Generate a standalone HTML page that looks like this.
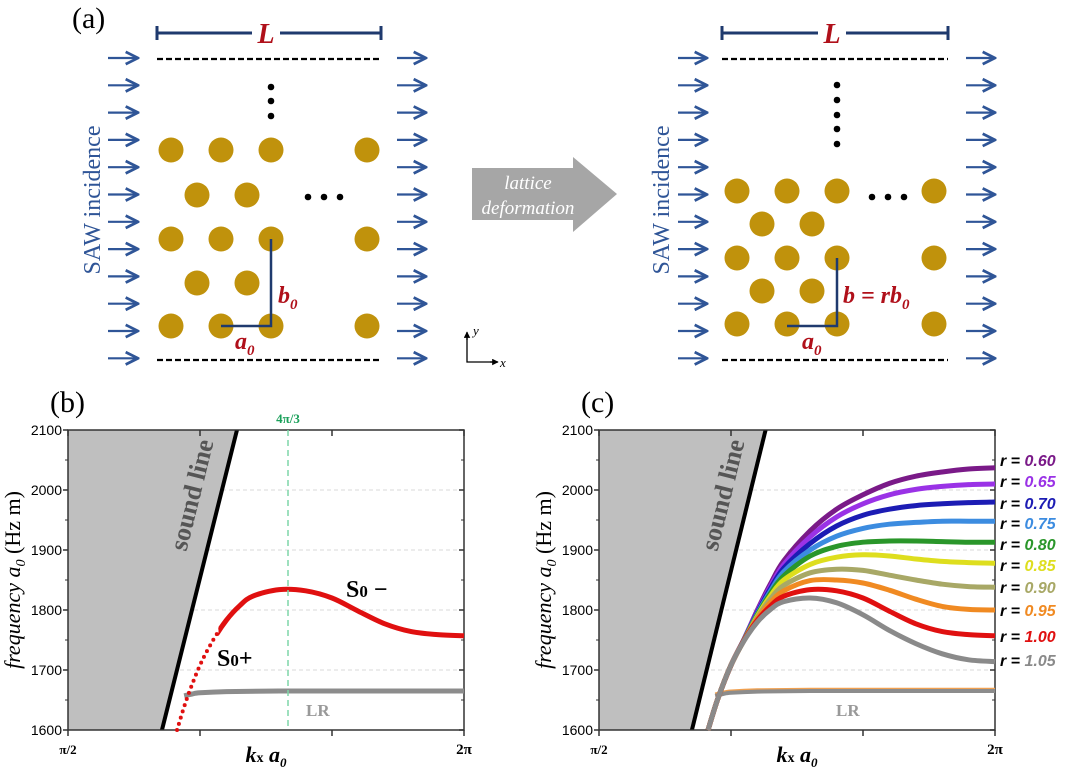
<!DOCTYPE html>
<html><head><meta charset="utf-8"><style>
body{margin:0;background:#fff}
svg{display:block}
.ser{font-family:"Liberation Serif",serif}
.san{font-family:"Liberation Sans",sans-serif}
</style></head><body>
<svg id="fig" width="1080" height="773" viewBox="0 0 1080 773" xmlns="http://www.w3.org/2000/svg">
<defs>
<marker id="ah" viewBox="0 0 10 10" refX="9" refY="5" markerWidth="7" markerHeight="7" orient="auto"><path d="M1,1 L9,5 L1,9" fill="none" stroke="#2f5597" stroke-width="1.8"/></marker>
<marker id="ak" viewBox="0 0 10 10" refX="9" refY="5" markerWidth="5" markerHeight="5" orient="auto"><path d="M0,0 L10,5 L0,10z" fill="#000"/></marker>
</defs>
<g id="panelA"></g>
<g id="panelB"></g>
<g id="panelC"></g>
</svg>
<script>
// ---- data ----
const kxGrid = [0.913,0.95,1.0,1.05,1.1,1.15,1.2,1.3,1.4,1.5,1.6,1.7,1.8,1.9,2.0]; // units of pi
const bandR100 = [1600,1652,1708,1750,1783,1807,1823,1834,1832,1820,1798,1777,1764,1759,1757];
const rLabels = ["0.60","0.65","0.70","0.75","0.80","0.85","0.90","0.95","1.00","1.05"];
const rColors = ["#7a1a88","#9a32e6","#1c1cb4","#3c8ce0","#2a962a","#dede1e","#a8a866","#f08a22","#e01010","#8a8a8a"];
const band060 = [1600,1652,1708,1752,1800,1844,1882,1932,1968,1992,2011,2023,2030,2035,2037];
const band065 = [1600,1652,1708,1752,1798,1840,1876,1922,1955,1977,1992,2001,2006,2009,2010];
const band070 = [1600,1652,1708,1751,1796,1836,1870,1911,1940,1958,1968,1974,1977,1979,1980];
const band075 = [1600,1652,1708,1751,1794,1832,1864,1900,1923,1936,1943,1946,1948,1948,1948];
const band080 = [1600,1652,1708,1751,1792,1828,1857,1890,1906,1913,1915,1915,1914,1913,1913];
const band085 = [1600,1652,1708,1750,1790,1824,1850,1876,1888,1892,1890,1885,1881,1879,1878];
const band090 = [1600,1652,1708,1750,1788,1819,1841,1862,1868,1866,1858,1850,1843,1839,1838];
const band095 = [1600,1652,1708,1750,1786,1813,1832,1849,1850,1845,1833,1818,1806,1801,1800];
const band100 = [1600,1652,1708,1750,1783,1807,1823,1834,1832,1820,1798,1777,1764,1759,1757];
const band105 = [1600,1652,1708,1749,1780,1801,1814,1820,1812,1792,1766,1744,1727,1717,1714];
const lrKx = [0.94,0.97,1.0,1.1,1.3,1.6,2.0];
const lrF = [1657,1660,1662,1664,1665,1665,1665];
const soundKxB = [0.856,1.140];
const soundKxC = [0.852,1.131];
const soundF = [1600,2100];
const yTicks = [1600,1700,1800,1900,2000,2100];
const xTickLabels = ["π/2","","","2π"];
const xTickVals = [0.5,1.0,1.5,2.0];

const NS="http://www.w3.org/2000/svg";
function mk(parent,tag,attrs,text){const e=document.createElementNS(NS,tag);for(const k in attrs)e.setAttribute(k,attrs[k]);if(text!==undefined)e.textContent=text;parent.appendChild(e);return e;}
function smooth(pts){let d="M"+pts[0][0]+","+pts[0][1];for(let i=0;i<pts.length-1;i++){const p0=pts[Math.max(0,i-1)],p1=pts[i],p2=pts[i+1],p3=pts[Math.min(pts.length-1,i+2)];const c1=[p1[0]+(p2[0]-p0[0])/6,p1[1]+(p2[1]-p0[1])/6],c2=[p2[0]-(p3[0]-p1[0])/6,p2[1]-(p3[1]-p1[1])/6];d+=` C${c1[0]},${c1[1]} ${c2[0]},${c2[1]} ${p2[0]},${p2[1]}`;}return d;}

// ---- panel A ----
const A=document.getElementById('panelA');
function schematic(g,o){
  for(let i=0;i<12;i++){const y=58+i*27.3;
    let e=mk(g,'line',{x1:o.aL[0],y1:y,x2:o.aL[1],y2:y,stroke:'#2f5597','stroke-width':2.2,'marker-end':'url(#ah)'});
    
    e=mk(g,'line',{x1:o.aR[0],y1:y,x2:o.aR[1],y2:y,stroke:'#2f5597','stroke-width':2.2,'marker-end':'url(#ah)'});
    }
  [59,360].forEach(y=>{const e=mk(g,'line',{x1:o.dx[0],y1:y,x2:o.dx[1],y2:y,stroke:'#000','stroke-width':2.2,'stroke-dasharray':'6,3'});});
  const lb=mk(g,'g',{});
  mk(lb,'line',{x1:o.dx[0],y1:33,x2:o.Lx-14,y2:33,stroke:'#1f3a6e','stroke-width':3});
  mk(lb,'line',{x1:o.Lx+14,y1:33,x2:o.dx[1],y2:33,stroke:'#1f3a6e','stroke-width':3});
  mk(lb,'line',{x1:o.dx[0],y1:26,x2:o.dx[0],y2:40,stroke:'#1f3a6e','stroke-width':3});
  mk(lb,'line',{x1:o.dx[1],y1:26,x2:o.dx[1],y2:40,stroke:'#1f3a6e','stroke-width':3});
  mk(lb,'text',{x:o.Lx,y:43,'text-anchor':'middle',class:'ser','font-size':28,'font-weight':'bold','font-style':'italic',fill:'#b0101a'},'L');
  o.circ.forEach(c=>{const e=mk(g,'circle',{cx:c[0],cy:c[1],r:12.5,fill:'#c0920c'});});
  o.dv.forEach(y=>mk(g,'circle',{cx:o.lx,cy:y,r:3.3,fill:'#000'}));
  o.dh.forEach(x=>mk(g,'circle',{cx:x,cy:197,r:3.3,fill:'#000'}));
  mk(g,'polyline',{points:`${o.lx0},326 ${o.lx},326 ${o.lx},${o.ly0}`,fill:'none',stroke:'#1f3a6e','stroke-width':2.5});
  const st=mk(g,'text',{transform:`translate(${o.sx},200) rotate(-90)`,'text-anchor':'middle',class:'ser','font-size':24,fill:'#2f5597'},'SAW incidence');
  
}
schematic(A,{aL:[108,138],aR:[397,426],dx:[157,381],Lx:266,
 circ:[[171,150],[221,150],[271,150],[367,150],[197,195],[247,195],[171,239],[221,239],[271,239],[367,239],[197,283],[247,283],[171,326],[221,326],[271,326],[367,326]],
 dv:[87,101,116],dh:[308,324,340],lx:271,lx0:221,ly0:239,sx:100});
schematic(A,{aL:[678,707],aR:[966,995],dx:[722,948],Lx:832,
 circ:[[737,191],[787,191],[837,191],[934,191],[762,224],[812,224],[737,258],[787,258],[837,258],[934,258],[762,291],[812,291],[737,324],[787,324],[837,324],[934,324]],
 dv:[85,100,115,129,144],dh:[872,888,904],lx:837,lx0:787,ly0:258,sx:669});
mk(A,'text',{x:72,y:28,class:'ser','font-size':30},'(a)');
const red={class:'ser','font-size':24,'font-weight':'bold','font-style':'italic',fill:'#b0101a'};
mk(A,'text',Object.assign({x:278,y:303},red)).innerHTML='b<tspan font-size="15" dy="6">0</tspan>';
mk(A,'text',Object.assign({x:235,y:349},red)).innerHTML='a<tspan font-size="15" dy="6">0</tspan>';
mk(A,'text',Object.assign({x:843,y:303},red)).innerHTML='b = rb<tspan font-size="15" dy="6">0</tspan>';
mk(A,'text',Object.assign({x:802,y:349},red)).innerHTML='a<tspan font-size="15" dy="6">0</tspan>';
const ba=mk(A,'polygon',{points:'472,168 573,168 573,157 617,194 573,232 573,220 472,220',fill:'#a6a6a6'});

mk(A,'text',{x:528,y:189,'text-anchor':'middle',class:'ser','font-size':19,'font-style':'italic',fill:'#fff'},'lattice');
mk(A,'text',{x:528,y:214,'text-anchor':'middle',class:'ser','font-size':19,'font-style':'italic',fill:'#fff'},'deformation');
mk(A,'polyline',{points:'467,334 467,362 494,362',fill:'none',stroke:'#000','stroke-width':1.3});
mk(A,'line',{x1:467,y1:340,x2:467,y2:332,stroke:'#000','stroke-width':1.3,'marker-end':'url(#ak)'});
mk(A,'line',{x1:490,y1:362,x2:498,y2:362,stroke:'#000','stroke-width':1.3,'marker-end':'url(#ak)'});
mk(A,'text',{x:473,y:335,class:'ser','font-size':13,'font-style':'italic'},'y');
mk(A,'text',{x:500,y:367,class:'ser','font-size':13,'font-style':'italic'},'x');

// ---- charts ----
function chart(g,x0,label,soundKx){
  const x1=x0+396,yT=430,yB=730;
  const X=k=>x0+(k-0.5)/1.5*396, Y=f=>yB-(f-1600)/500*300;
  mk(g,'text',{x:x0-18,y:412,class:'ser','font-size':30},label);
  yTicks.forEach(t=>{ if(t>1600&&t<2100){const e=mk(g,'line',{x1:x0,y1:Y(t),x2:x1,y2:Y(t),stroke:'#d8d8d8','stroke-width':1,'stroke-dasharray':'4,3'});}
    const tl=mk(g,'text',{x:x0-6,y:Y(t)+5,'text-anchor':'end',class:'san','font-size':14},String(t));
    });
  const sh=mk(g,'polygon',{points:`${x0},${yT} ${X(soundKx[1])},${Y(soundF[1])} ${X(soundKx[0])},${Y(soundF[0])} ${x0},${yB}`,fill:'#bfbfbf'});
  
  const sl=mk(g,'line',{x1:X(soundKx[0]),y1:Y(soundF[0]),x2:X(soundKx[1]),y2:Y(soundF[1]),stroke:'#000','stroke-width':4});
  
  const cx=x0+132;
  const sT=mk(g,'text',{transform:`translate(${cx},497) rotate(-76)`,'text-anchor':'middle',class:'ser','font-size':26,'font-weight':'bold',fill:'#555'},'sound line');
  
  mk(g,'rect',{x:x0,y:yT,width:396,height:300,fill:'none',stroke:'#333','stroke-width':1.5});
  yTicks.forEach(t=>{mk(g,'line',{x1:x0,y1:Y(t),x2:x0-5,y2:Y(t),stroke:'#333','stroke-width':1.5});mk(g,'line',{x1:x1,y1:Y(t),x2:x1-5,y2:Y(t),stroke:'#333','stroke-width':1.5});
    if(t<2100){mk(g,'line',{x1:x0,y1:Y(t+50),x2:x0-3,y2:Y(t+50),stroke:'#333'});mk(g,'line',{x1:x1,y1:Y(t+50),x2:x1-3,y2:Y(t+50),stroke:'#333'});}});
  xTickVals.forEach((v,i)=>{mk(g,'line',{x1:X(v),y1:yB,x2:X(v),y2:yB+6,stroke:'#333','stroke-width':1.5});mk(g,'line',{x1:X(v),y1:yT,x2:X(v),y2:yT+6,stroke:'#333','stroke-width':1.5});
    if(xTickLabels[i]){const e=mk(g,'text',{x:X(v),y:yB+24,'text-anchor':'middle',class:'ser','font-size':i==0?13:15,'font-weight':'bold'},xTickLabels[i]);}});
  const xt=mk(g,'text',{x:x0+198,y:yB+32,'text-anchor':'middle',class:'ser','font-size':22,'font-style':'italic','font-weight':'bold'});
  
  xt.innerHTML='k<tspan font-size="14" font-style="normal">x</tspan> a<tspan font-size="13" dy="5">0</tspan>';
  const yt=mk(g,'text',{transform:`translate(${x0-48},580) rotate(-90)`,'text-anchor':'middle',class:'ser','font-size':22});
  
  yt.innerHTML='<tspan font-style="italic">frequency a</tspan><tspan font-style="italic" font-size="14" dy="5">0</tspan><tspan dy="-5"> (Hz m)</tspan>';
  return {X,Y,x1};
}
// Panel B
const B=document.getElementById('panelB');
const cb=chart(B,68,'(b)',soundKxB);
const lrB=mk(B,'path',{d:smooth(lrKx.map((k,i)=>[cb.X(k),cb.Y(lrF[i])])),fill:'none',stroke:'#8c8c8c','stroke-width':5});

const ptsB=kxGrid.map((k,i)=>[cb.X(k),cb.Y(bandR100[i])]);
const fullB=smooth(ptsB);
const dotB=mk(B,'path',{d:smooth(ptsB.slice(0,6)),fill:'none',stroke:'#e01010','stroke-width':4,'stroke-dasharray':'0,6.5','stroke-linecap':'round'});

const solB=mk(B,'path',{d:fullB,fill:'none',stroke:'#e01010','stroke-width':5});

// clip solid part to kx >= 1.07
const clipB=mk(B,'clipPath',{id:'clipB'});mk(clipB,'rect',{x:cb.X(1.07),y:420,width:400,height:320});
solB.setAttribute('clip-path','url(#clipB)');
const gx=cb.X(4/3);
mk(B,'line',{x1:gx,y1:430,x2:gx,y2:730,stroke:'#7fd6a8','stroke-width':1.5,'stroke-dasharray':'6,4'});
mk(B,'text',{x:gx,y:423,'text-anchor':'middle',class:'ser','font-size':13,'font-weight':'bold',fill:'#1aa05a'},'4π/3');
mk(B,'text',{x:346,y:597,class:'ser','font-size':24,'font-weight':'bold'}).innerHTML='S<tspan font-size="17">0</tspan> −';
mk(B,'text',{x:217,y:666,class:'ser','font-size':24,'font-weight':'bold'}).innerHTML='S<tspan font-size="17">0</tspan>+';
mk(B,'text',{x:306,y:716,class:'ser','font-size':17,'font-weight':'bold',fill:'#999'},'LR');

// Panel C
const C=document.getElementById('panelC');
const cc=chart(C,599,'(c)',soundKxC);
const lrC2=mk(C,'path',{d:smooth(lrKx.map((k,i)=>[cc.X(k),cc.Y(lrF[i]+3)])),fill:'none',stroke:'#f0a050','stroke-width':3});

const lrC=mk(C,'path',{d:smooth(lrKx.map((k,i)=>[cc.X(k),cc.Y(lrF[i])])),fill:'none',stroke:'#8c8c8c','stroke-width':4});

const bands=[band060,band065,band070,band075,band080,band085,band090,band095,band100,band105];
bands.forEach((b,j)=>{
  const p=mk(C,'path',{d:smooth(kxGrid.map((k,i)=>[cc.X(k),cc.Y(b[i])])),fill:'none',stroke:rColors[j],'stroke-width':5});
  
  
});
const legY=[466,487,509,529,550,571,593,616,642,666];
rLabels.forEach((r,j)=>{
  const t=mk(C,'text',{x:1000,y:legY[j],class:'san','font-size':16,'font-weight':'bold','font-style':'italic'});
  
  
  t.innerHTML=`r = <tspan fill="${rColors[j]}">${r}</tspan>`;
});
mk(C,'text',{x:836,y:716,class:'ser','font-size':17,'font-weight':'bold',fill:'#999'},'LR');
</script>
</body></html>
